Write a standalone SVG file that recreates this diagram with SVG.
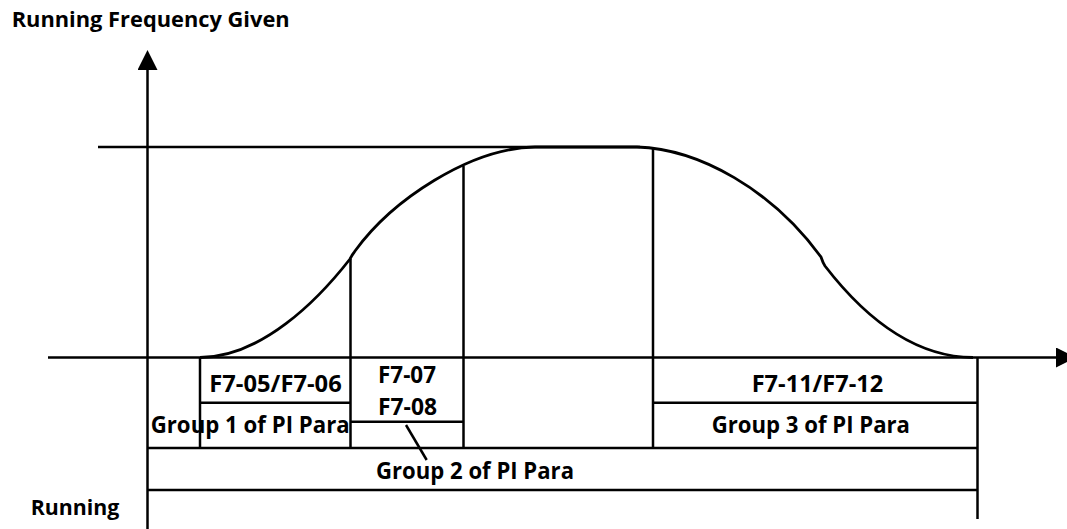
<svg xmlns="http://www.w3.org/2000/svg" width="1067" height="529" viewBox="0 0 1067 529">
  <style>
    .ln { stroke: #000; stroke-width: 2.5; fill: none; }
    .cv { stroke: #000; stroke-width: 2.8; fill: none; }
    .tx { font-family: "Open Sans", "Liberation Sans", sans-serif; font-weight: 700; font-size: 22.5px; fill: #000; }
    .ti { font-family: "Open Sans", "Liberation Sans", sans-serif; font-weight: 700; font-size: 21px; fill: #000; }
  </style>
  <defs>
    <marker id="arr" viewBox="0 0 20 20" refX="0" refY="10" markerWidth="20" markerHeight="20" markerUnits="userSpaceOnUse" orient="auto">
      <path d="M0,0 L20,10 L0,20 Z" fill="#000"/>
    </marker>
  </defs>
  <rect width="1067" height="529" fill="#fff"/>

  <g id="axes">
    <line class="ln" x1="147.5" y1="529" x2="147.5" y2="70" marker-end="url(#arr)"/>
    <line class="ln" x1="48" y1="357.5" x2="1056" y2="357.5" marker-end="url(#arr)"/>
  </g>

  <g id="curve">
    <line class="ln" x1="98" y1="147" x2="640" y2="147"/>
    <path class="cv" d="M200,357.5 C262,357 318,300 350,259 C352,255 353,254 355,251 C392,200 470,148 535,147 L637,147 C700,149 772,190 821,257 C822,260 823,263 825,266 C862,314 912,357 973,357.5"/>
  </g>

  <g id="connectors">
    <line class="ln" x1="200" y1="357" x2="200" y2="449"/>
    <line class="ln" x1="350.5" y1="259" x2="350.5" y2="449"/>
    <line class="ln" x1="463.5" y1="166" x2="463.5" y2="449"/>
    <line class="ln" x1="653" y1="148" x2="653" y2="449"/>
    <line class="ln" x1="977.5" y1="357" x2="977.5" y2="519"/>
    <line class="ln" x1="200" y1="402.7" x2="350.5" y2="402.7"/>
    <line class="ln" x1="350.5" y1="421.7" x2="463.5" y2="421.7"/>
    <line class="ln" x1="653" y1="402.7" x2="977.5" y2="402.7"/>
    <line class="ln" x1="147.5" y1="448" x2="977.5" y2="448"/>
    <line class="ln" x1="147.5" y1="490" x2="977.5" y2="490"/>
    <line class="ln" x1="406" y1="425" x2="426.7" y2="460"/>
  </g>

  <g id="title">
    <text class="ti" x="11.7" y="27" textLength="278" lengthAdjust="spacingAndGlyphs">Running Frequency Given</text>
  </g>
  <g id="running">
    <text class="ti" x="30.7" y="515" textLength="88.6" lengthAdjust="spacingAndGlyphs">Running</text>
  </g>
  <g id="group1">
    <text class="tx" x="209.3" y="391.7" textLength="132.4" lengthAdjust="spacingAndGlyphs">F7-05/F7-06</text>
    <text class="tx" x="150.7" y="432.7" textLength="199" lengthAdjust="spacingAndGlyphs">Group 1 of PI Para</text>
  </g>
  <g id="group2">
    <text class="tx" x="378" y="383" textLength="58" lengthAdjust="spacingAndGlyphs">F7-07</text>
    <text class="tx" x="378" y="415" textLength="59" lengthAdjust="spacingAndGlyphs">F7-08</text>
    <text class="tx" x="376" y="479" textLength="198" lengthAdjust="spacingAndGlyphs">Group 2 of PI Para</text>
  </g>
  <g id="group3">
    <text class="tx" x="751.7" y="391.7" textLength="131.6" lengthAdjust="spacingAndGlyphs">F7-11/F7-12</text>
    <text class="tx" x="711.7" y="433" textLength="198.3" lengthAdjust="spacingAndGlyphs">Group 3 of PI Para</text>
  </g>
</svg>
